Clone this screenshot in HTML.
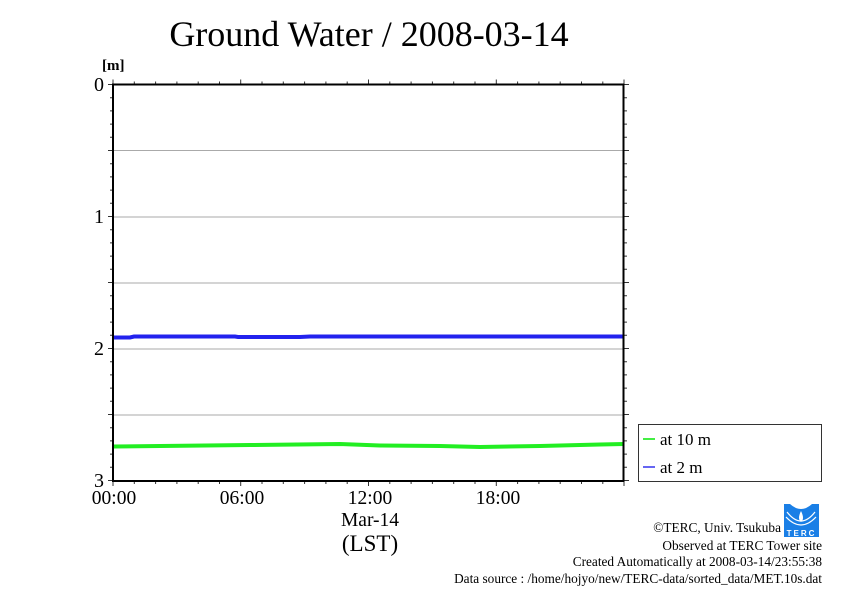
<!DOCTYPE html>
<html><head><meta charset="utf-8"><style>
html,body{margin:0;padding:0;background:#fff;}
svg{display:block;font-family:"Liberation Serif",serif;}
</style></head><body>
<svg width="842" height="595" viewBox="0 0 842 595" xmlns="http://www.w3.org/2000/svg">
<rect width="842" height="595" fill="#fff"/>
<text x="369" y="46" font-size="36" text-anchor="middle">Ground Water / 2008-03-14</text>
<text x="102" y="70" font-size="15" font-weight="bold">[m]</text>
<g stroke="#aaa" stroke-width="1">
<line x1="113" y1="150.5" x2="624" y2="150.5"/>
<line x1="113" y1="217" x2="624" y2="217"/>
<line x1="113" y1="283" x2="624" y2="283"/>
<line x1="113" y1="349" x2="624" y2="349"/>
<line x1="113" y1="415" x2="624" y2="415"/>
</g>
<g stroke="#333" stroke-width="1">
<path d="M108,84.5H113M110,97.7H113M110,110.9H113M110,124.1H113M110,137.3H113M108,150.5H113M110,163.7H113M110,176.9H113M110,190.1H113M110,203.3H113M108,216.5H113M110,229.7H113M110,242.9H113M110,256.1H113M110,269.3H113M108,282.5H113M110,295.7H113M110,308.9H113M110,322.1H113M110,335.3H113M108,348.5H113M110,361.7H113M110,374.9H113M110,388.1H113M110,401.3H113M108,414.5H113M110,427.7H113M110,440.9H113M110,454.1H113M110,467.3H113M108,480.5H113"/>
<path d="M624,84.5H629M624,97.7H627M624,110.9H627M624,124.1H627M624,137.3H627M624,150.5H629M624,163.7H627M624,176.9H627M624,190.1H627M624,203.3H627M624,216.5H629M624,229.7H627M624,242.9H627M624,256.1H627M624,269.3H627M624,282.5H629M624,295.7H627M624,308.9H627M624,322.1H627M624,335.3H627M624,348.5H629M624,361.7H627M624,374.9H627M624,388.1H627M624,401.3H627M624,414.5H629M624,427.7H627M624,440.9H627M624,454.1H627M624,467.3H627M624,480.5H629"/>
<path d="M113,84.5V79.5M134.3,84.5V81.5M155.6,84.5V81.5M176.9,84.5V81.5M198.2,84.5V81.5M219.5,84.5V81.5M240.7,84.5V79.5M262,84.5V81.5M283.3,84.5V81.5M304.6,84.5V81.5M325.9,84.5V81.5M347.2,84.5V81.5M368.5,84.5V79.5M389.8,84.5V81.5M411.1,84.5V81.5M432.4,84.5V81.5M453.7,84.5V81.5M475,84.5V81.5M496.3,84.5V79.5M517.6,84.5V81.5M538.9,84.5V81.5M560.2,84.5V81.5M581.5,84.5V81.5M602.8,84.5V81.5M624,84.5V79.5"/>
<path d="M113,481V486M134.3,481V484M155.6,481V484M176.9,481V484M198.2,481V484M219.5,481V484M240.7,481V486M262,481V484M283.3,481V484M304.6,481V484M325.9,481V484M347.2,481V484M368.5,481V486M389.8,481V484M411.1,481V484M432.4,481V484M453.7,481V484M475,481V484M496.3,481V486M517.6,481V484M538.9,481V484M560.2,481V484M581.5,481V484M602.8,481V484M624,481V486"/>
</g>
<polyline fill="none" stroke="#2222ee" stroke-width="4" points="113,337.5 130,337.5 134,336.5 235,336.5 238,337 300,337 310,336.5 624,336.5"/>
<polyline fill="none" stroke="#22ee22" stroke-width="4" points="113,446.5 160,446 250,445 340,444 380,445.5 440,446 480,447 540,446 600,444.5 624,444"/>
<rect x="113" y="84.5" width="510.5" height="396.5" fill="none" stroke="#000" stroke-width="2"/>
<g font-size="20" text-anchor="end">
<text x="104" y="91">0</text>
<text x="104" y="223">1</text>
<text x="104" y="355">2</text>
<text x="104" y="487">3</text>
</g>
<g font-size="19.5" text-anchor="middle">
<text x="114" y="504">00:00</text>
<text x="242" y="504">06:00</text>
<text x="370" y="504">12:00</text>
<text x="498" y="504">18:00</text>
<text x="370" y="526">Mar-14</text>
<text x="370" y="551" font-size="23">(LST)</text>
</g>
<rect x="638.5" y="424.5" width="183" height="57" fill="#fff" stroke="#333" stroke-width="1"/>
<line x1="643" y1="439" x2="655" y2="439" stroke="#44ee44" stroke-width="2"/>
<line x1="643" y1="467" x2="655" y2="467" stroke="#3333ee" stroke-width="1.5"/>
<text x="660" y="445" font-size="17">at 10 m</text>
<text x="660" y="473" font-size="17">at 2 m</text>
<g>
<rect x="784" y="504" width="35" height="33" fill="#1a7fe6"/>
<path d="M790,504 Q801,514 812,504 Z" fill="#fff"/>
<path d="M801,511 Q797,519 801,522 Q805,519 801,511 Z" fill="#fff"/>
<path d="M787,512 Q801,530 815,512" fill="none" stroke="#fff" stroke-width="1.2"/>
<path d="M786,517 Q801,533 816,517" fill="none" stroke="#fff" stroke-width="1.2"/>
<text x="801.5" y="536" font-size="8" fill="#fff" text-anchor="middle" font-family="Liberation Sans,sans-serif" font-weight="bold" letter-spacing="2">TERC</text>
</g>
<g font-size="13.3" text-anchor="end">
<text x="781" y="532">©TERC, Univ. Tsukuba</text>
<text x="822" y="550">Observed at TERC Tower site</text>
<text x="822" y="566">Created Automatically at 2008-03-14/23:55:38</text>
<text x="822" y="583">Data source : /home/hojyo/new/TERC-data/sorted_data/MET.10s.dat</text>
</g>
</svg>
</body></html>
